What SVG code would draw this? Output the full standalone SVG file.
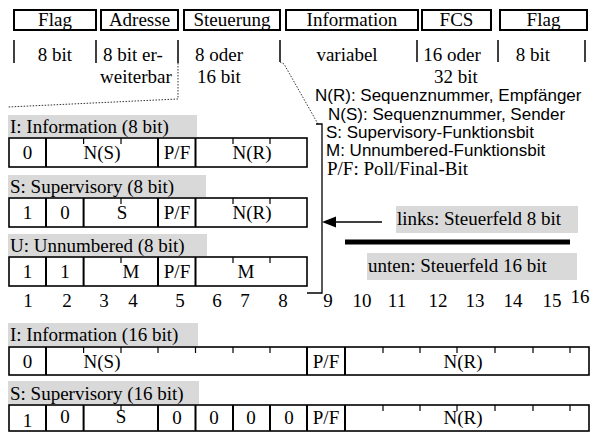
<svg xmlns="http://www.w3.org/2000/svg" width="593" height="432" viewBox="0 0 593 432">
<style>
.t{font-family:"Liberation Serif","Times New Roman",serif;font-size:19px;fill:#000}
.m{text-anchor:middle}
.s{font-family:"Liberation Sans",Arial,sans-serif;font-size:17px;fill:#000}
.box{fill:#fff;stroke:#000;stroke-width:2}
.row{fill:#fff;stroke:#000;stroke-width:1.6}
.div{stroke:#000;stroke-width:2}
.tick{stroke:#000;stroke-width:1.2}
.lab{fill:#d9d9d9}
.sep{stroke:#000;stroke-width:1.5}
.dot{fill:none;stroke:#333;stroke-width:1;stroke-dasharray:1.5 1.5}
.brk{fill:none;stroke:#000;stroke-width:1.3}
</style>
<rect width="593" height="432" fill="#fff"/>
<g id="frame">
<rect class="box" x="14" y="10" width="82" height="20"/><text class="t m" x="55" y="26">Flag</text>
<rect class="box" x="101" y="10" width="77" height="20"/><text class="t m" x="139.5" y="26">Adresse</text>
<rect class="box" x="184" y="10" width="96" height="20"/><text class="t m" x="232" y="26">Steuerung</text>
<rect class="box" x="286" y="10" width="132" height="20"/><text class="t m" x="352" y="26">Information</text>
<rect class="box" x="422" y="10" width="69" height="20"/><text class="t m" x="456.5" y="26">FCS</text>
<rect class="box" x="500" y="10" width="87" height="20"/><text class="t m" x="543.5" y="26">Flag</text>
</g>
<g id="sizes">
<line class="sep" x1="14" y1="40" x2="14" y2="63"/>
<line class="sep" x1="96" y1="40" x2="96" y2="63"/>
<line class="sep" x1="178" y1="40" x2="178" y2="63"/>
<line class="sep" x1="280" y1="40" x2="280" y2="62"/>
<line class="sep" x1="417" y1="40" x2="417" y2="62"/>
<line class="sep" x1="498" y1="40" x2="498" y2="62"/>
<line class="sep" x1="585" y1="40" x2="585" y2="62"/>
<text class="t m" x="55" y="61">8 bit</text>
<text class="t" x="103" y="61">8 bit er-</text>
<text class="t" x="100" y="83">weiterbar</text>
<text class="t" x="195" y="61">8 oder</text>
<text class="t" x="197" y="83">16 bit</text>
<text class="t m" x="347" y="61">variabel</text>
<text class="t m" x="452" y="61">16 oder</text>
<text class="t m" x="456" y="83">32 bit</text>
<text class="t m" x="533" y="61">8 bit</text>
</g>
<g id="legend">
<text class="s" x="315" y="101">N(R): Sequenznummer, Empfänger</text>
<text class="s" x="328" y="120">N(S): Sequenznummer, Sender</text>
<text class="s" x="326" y="138">S: Supervisory-Funktionsbit</text>
<text class="s" x="326" y="156">M: Unnumbered-Funktionsbit</text>
<text class="t" x="327" y="175">P/F: Poll/Final-Bit</text>
</g>
<g id="connectors">
<polyline class="dot" points="178,63 178,99 8,107"/>
<polyline class="dot" points="280,62 284,64 318,124"/>
<polyline class="brk" points="316,124 322,124 322,293 307,293"/>
<line x1="382" y1="222" x2="333" y2="222" stroke="#000" stroke-width="1.5"/>
<polygon points="322,222 336,216.5 336,227.5" fill="#000"/>
<line x1="345" y1="242" x2="570" y2="242" stroke="#000" stroke-width="5"/>
</g>
<g id="note-links">
<rect class="lab" x="396" y="206" width="182" height="27"/>
<text class="t" x="397" y="225">links: Steuerfeld 8 bit</text>
</g>
<g id="note-unten">
<rect class="lab" x="367" y="253" width="210" height="27"/>
<text class="t" x="368" y="272">unten: Steuerfeld 16 bit</text>
</g>
<g id="I8">
<rect class="lab" x="8" y="115" width="189" height="22"/>
<text class="t" x="10" y="133">I: Information (8 bit)</text>
<rect class="row" x="9" y="138" width="298" height="29"/>
<line class="div" x1="46" y1="138" x2="46" y2="167"/>
<line class="div" x1="158" y1="138" x2="158" y2="167"/>
<line class="div" x1="195.5" y1="138" x2="195.5" y2="167"/>
<line class="tick" x1="83.6" y1="138" x2="83.6" y2="144"/>
<line class="tick" x1="121" y1="138" x2="121" y2="144"/>
<line class="tick" x1="233" y1="138" x2="233" y2="144"/>
<line class="tick" x1="270" y1="138" x2="270" y2="144"/>
<text class="t m" x="27.5" y="159">0</text>
<text class="t m" x="102" y="159">N(S)</text>
<text class="t m" x="177" y="159">P/F</text>
<text class="t m" x="252" y="159">N(R)</text>
</g>
<g id="S8">
<rect class="lab" x="8" y="175" width="198" height="22"/>
<text class="t" x="10" y="193">S: Supervisory (8 bit)</text>
<rect class="row" x="9" y="198" width="298" height="29"/>
<line class="div" x1="46" y1="198" x2="46" y2="227"/>
<line class="div" x1="83.6" y1="198" x2="83.6" y2="227"/>
<line class="div" x1="158" y1="198" x2="158" y2="227"/>
<line class="div" x1="195.5" y1="198" x2="195.5" y2="227"/>
<line class="tick" x1="121" y1="198" x2="121" y2="204"/>
<line class="tick" x1="233" y1="198" x2="233" y2="204"/>
<line class="tick" x1="270" y1="198" x2="270" y2="204"/>
<text class="t m" x="27.5" y="219">1</text>
<text class="t m" x="65" y="219">0</text>
<text class="t m" x="122" y="219">S</text>
<text class="t m" x="177" y="219">P/F</text>
<text class="t m" x="252" y="219">N(R)</text>
</g>
<g id="U8">
<rect class="lab" x="8" y="234" width="199" height="22"/>
<text class="t" x="10" y="252">U: Unnumbered (8 bit)</text>
<rect class="row" x="9" y="257" width="298" height="29"/>
<line class="div" x1="46" y1="257" x2="46" y2="286"/>
<line class="div" x1="83.6" y1="257" x2="83.6" y2="286"/>
<line class="div" x1="158" y1="257" x2="158" y2="286"/>
<line class="div" x1="195.5" y1="257" x2="195.5" y2="286"/>
<line class="tick" x1="121" y1="257" x2="121" y2="263"/>
<line class="tick" x1="233" y1="257" x2="233" y2="263"/>
<line class="tick" x1="270" y1="257" x2="270" y2="263"/>
<text class="t m" x="27.5" y="278">1</text>
<text class="t m" x="65" y="278">1</text>
<text class="t m" x="131" y="278">M</text>
<text class="t m" x="246" y="278">M</text>
<text class="t m" x="177" y="278">P/F</text>
</g>
<g id="bitnumbers">
<text class="t m" x="28" y="307">1</text>
<text class="t m" x="67" y="307">2</text>
<text class="t m" x="104" y="307">3</text>
<text class="t m" x="133" y="307">4</text>
<text class="t m" x="180" y="307">5</text>
<text class="t m" x="217" y="307">6</text>
<text class="t m" x="245" y="307">7</text>
<text class="t m" x="283" y="307">8</text>
<text class="t m" x="328" y="307">9</text>
<text class="t m" x="362" y="307">10</text>
<text class="t m" x="397" y="307">11</text>
<text class="t m" x="438" y="307">12</text>
<text class="t m" x="475" y="307">13</text>
<text class="t m" x="513" y="307">14</text>
<text class="t m" x="552" y="307">15</text>
<text class="t m" x="580" y="303">16</text>
</g>
<g id="I16">
<rect class="lab" x="8" y="323" width="190" height="23"/>
<text class="t" x="10" y="341">I: Information (16 bit)</text>
<rect class="row" x="9" y="347" width="580" height="28"/>
<line class="div" x1="46" y1="347" x2="46" y2="375"/>
<line class="div" x1="307" y1="347" x2="307" y2="375"/>
<line class="div" x1="345" y1="347" x2="345" y2="375"/>
<line class="tick" x1="83.6" y1="347" x2="83.6" y2="353"/>
<line class="tick" x1="121" y1="347" x2="121" y2="353"/>
<line class="tick" x1="158" y1="347" x2="158" y2="353"/>
<line class="tick" x1="195.5" y1="347" x2="195.5" y2="353"/>
<line class="tick" x1="233" y1="347" x2="233" y2="353"/>
<line class="tick" x1="270" y1="347" x2="270" y2="353"/>
<line class="tick" x1="383" y1="347" x2="383" y2="353"/>
<line class="tick" x1="420" y1="347" x2="420" y2="353"/>
<line class="tick" x1="457" y1="347" x2="457" y2="353"/>
<line class="tick" x1="495" y1="347" x2="495" y2="353"/>
<line class="tick" x1="533" y1="347" x2="533" y2="353"/>
<line class="tick" x1="570" y1="347" x2="570" y2="353"/>
<text class="t m" x="27.5" y="368">0</text>
<text class="t m" x="102" y="368">N(S)</text>
<text class="t m" x="326" y="368">P/F</text>
<text class="t m" x="463" y="368">N(R)</text>
</g>
<g id="S16">
<rect class="lab" x="8" y="381" width="191" height="23"/>
<text class="t" x="10" y="400">S: Supervisory (16 bit)</text>
<rect class="row" x="9" y="405" width="580" height="26"/>
<line class="div" x1="46" y1="405" x2="46" y2="431"/>
<line class="div" x1="83.6" y1="405" x2="83.6" y2="431"/>
<line class="div" x1="158" y1="405" x2="158" y2="431"/>
<line class="div" x1="195.5" y1="405" x2="195.5" y2="431"/>
<line class="div" x1="233" y1="405" x2="233" y2="431"/>
<line class="div" x1="270" y1="405" x2="270" y2="431"/>
<line class="div" x1="307" y1="405" x2="307" y2="431"/>
<line class="div" x1="345" y1="405" x2="345" y2="431"/>
<line class="tick" x1="121" y1="405" x2="121" y2="411"/>
<line class="tick" x1="383" y1="405" x2="383" y2="411"/>
<line class="tick" x1="420" y1="405" x2="420" y2="411"/>
<line class="tick" x1="457" y1="405" x2="457" y2="411"/>
<line class="tick" x1="495" y1="405" x2="495" y2="411"/>
<line class="tick" x1="533" y1="405" x2="533" y2="411"/>
<line class="tick" x1="570" y1="405" x2="570" y2="411"/>
<text class="t m" x="27.5" y="427">1</text>
<text class="t m" x="65" y="423">0</text>
<text class="t m" x="121" y="423">S</text>
<text class="t m" x="177" y="424">0</text>
<text class="t m" x="214" y="424">0</text>
<text class="t m" x="251" y="424">0</text>
<text class="t m" x="289" y="424">0</text>
<text class="t m" x="326" y="424">P/F</text>
<text class="t m" x="463" y="424">N(R)</text>
</g>
</svg>
